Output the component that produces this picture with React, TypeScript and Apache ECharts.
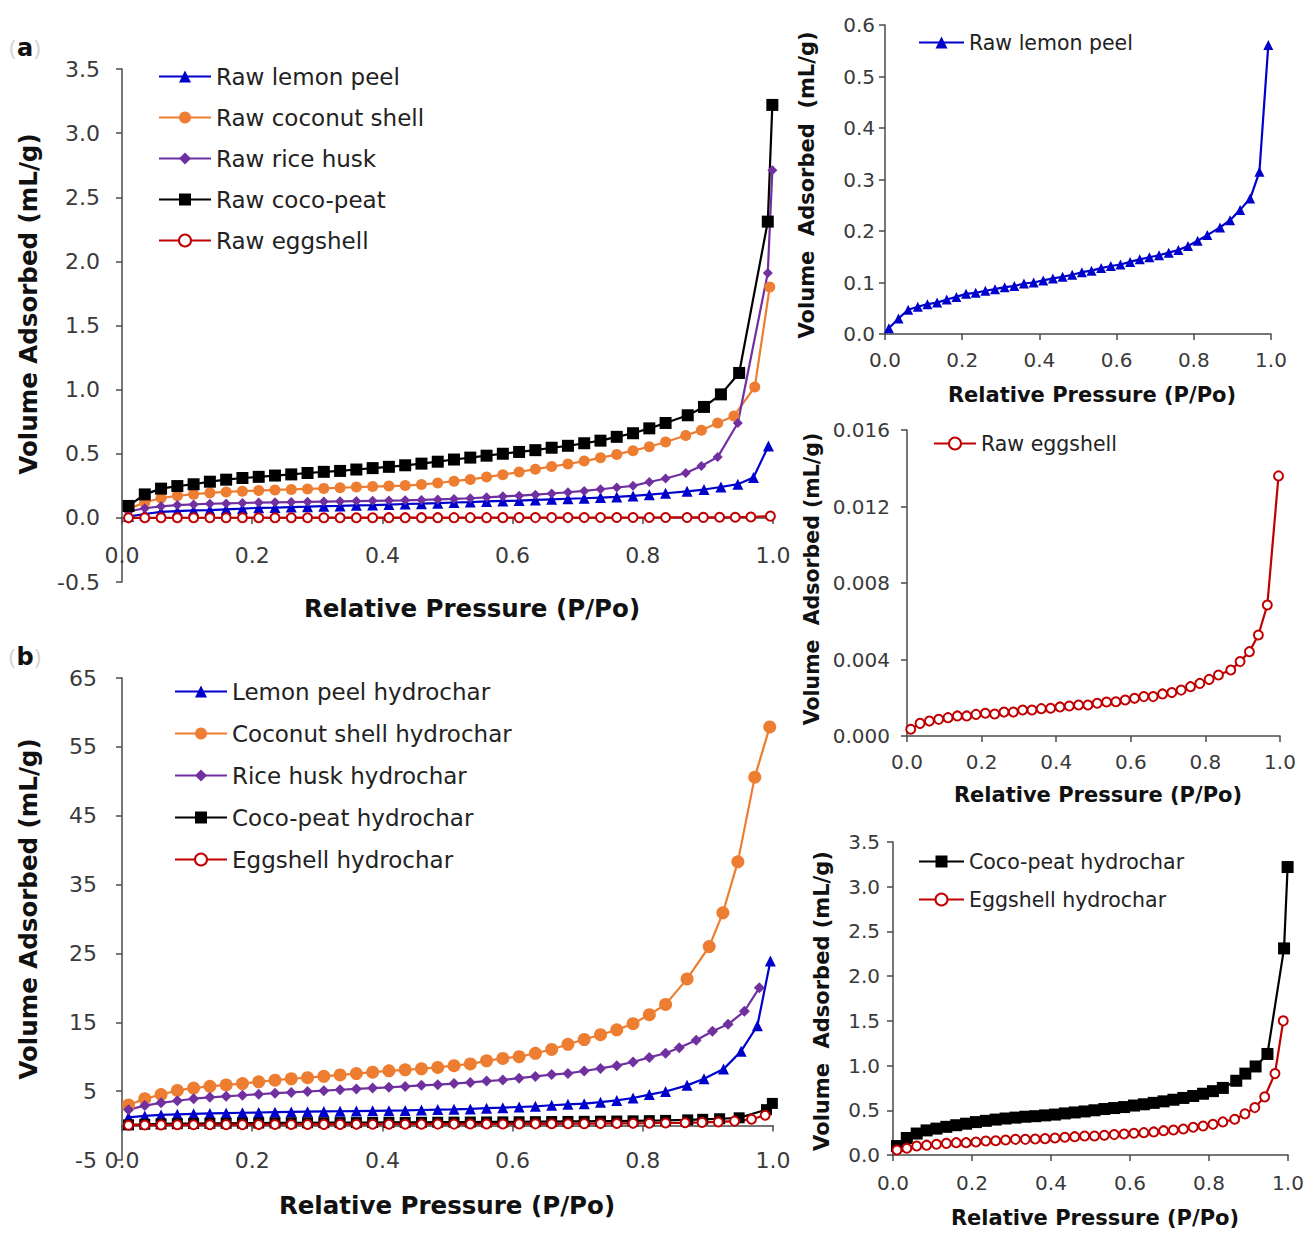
import React, { useEffect, useRef } from "react";
import * as echarts from "echarts";

// Relative pressure (P/Po) of the common low-pressure points
const pressureLow = [0.01, 0.035, 0.06, 0.085, 0.11, 0.135, 0.16, 0.185, 0.21, 0.235, 0.26, 0.285, 0.31, 0.335, 0.36, 0.385, 0.41, 0.435, 0.46, 0.485, 0.51, 0.535, 0.56, 0.585, 0.61, 0.635, 0.66, 0.685, 0.71, 0.735, 0.76, 0.785, 0.81, 0.835];

// Raw materials (mL/g)
const rawLemonLow = [0.011, 0.03, 0.047, 0.053, 0.058, 0.061, 0.067, 0.072, 0.078, 0.08, 0.084, 0.087, 0.091, 0.093, 0.098, 0.1, 0.104, 0.108, 0.111, 0.115, 0.12, 0.123, 0.128, 0.132, 0.135, 0.14, 0.145, 0.149, 0.153, 0.158, 0.163, 0.171, 0.181, 0.192];
const rawLemonTail = [[0.868, 0.207], [0.894, 0.221], [0.92, 0.241], [0.946, 0.263], [0.97, 0.315], [0.993, 0.561]];

const rawCoconutLow = [0.07, 0.12, 0.155, 0.172, 0.185, 0.195, 0.202, 0.208, 0.213, 0.218, 0.222, 0.226, 0.23, 0.235, 0.24, 0.244, 0.248, 0.252, 0.26, 0.272, 0.286, 0.3, 0.318, 0.337, 0.358, 0.38, 0.4, 0.42, 0.443, 0.468, 0.495, 0.524, 0.555, 0.592];
const rawCoconutTail = [[0.866, 0.642], [0.89, 0.684], [0.915, 0.74], [0.94, 0.795], [0.972, 1.02], [0.995, 1.8]];

const rawRiceLow = [0.05, 0.075, 0.09, 0.1, 0.105, 0.11, 0.113, 0.116, 0.119, 0.121, 0.123, 0.125, 0.127, 0.129, 0.131, 0.133, 0.135, 0.137, 0.14, 0.144, 0.148, 0.153, 0.16, 0.168, 0.173, 0.181, 0.19, 0.2, 0.21, 0.223, 0.237, 0.25, 0.28, 0.307];
const rawRiceTail = [[0.866, 0.35], [0.89, 0.405], [0.915, 0.474], [0.946, 0.74], [0.992, 1.91], [0.999, 2.71]];

const rawCocoPeatLow = [0.093, 0.183, 0.228, 0.248, 0.262, 0.282, 0.298, 0.311, 0.32, 0.33, 0.339, 0.35, 0.359, 0.366, 0.377, 0.388, 0.398, 0.41, 0.423, 0.438, 0.455, 0.47, 0.485, 0.5, 0.514, 0.528, 0.547, 0.562, 0.582, 0.602, 0.632, 0.66, 0.698, 0.74];
const rawCocoPeatTail = [[0.869, 0.8], [0.894, 0.865], [0.92, 0.963], [0.948, 1.13], [0.992, 2.31], [0.999, 3.22]];

const rawEggLow = [0.00035, 0.00066, 0.00078, 0.00087, 0.00096, 0.00105, 0.00105, 0.00113, 0.00119, 0.00115, 0.00125, 0.00125, 0.00136, 0.00136, 0.00143, 0.00145, 0.00152, 0.00157, 0.00162, 0.00162, 0.00171, 0.00178, 0.00179, 0.00188, 0.00197, 0.00206, 0.00206, 0.0022, 0.00227, 0.0024, 0.00258, 0.00275, 0.00296, 0.00319];
const rawEggTail = [[0.868, 0.00345], [0.893, 0.00389], [0.918, 0.00441], [0.942, 0.00528], [0.966, 0.00685], [0.996, 0.0136]];

// Hydrochars (mL/g)
const lemonHydLow = [1.2, 1.4, 1.55, 1.63, 1.7, 1.76, 1.81, 1.86, 1.9, 1.94, 1.98, 2.02, 2.05, 2.08, 2.11, 2.14, 2.17, 2.2, 2.26, 2.32, 2.36, 2.42, 2.52, 2.6, 2.7, 2.8, 2.95, 3.08, 3.18, 3.4, 3.65, 4.0, 4.5, 4.95];
const lemonHydTail = [[0.868, 5.84], [0.894, 6.8], [0.924, 8.2], [0.951, 10.8], [0.976, 14.5], [0.996, 23.9]];

const coconutHydLow = [3.0, 3.9, 4.5, 5.1, 5.45, 5.7, 5.9, 6.1, 6.35, 6.6, 6.8, 6.95, 7.15, 7.35, 7.55, 7.75, 7.95, 8.1, 8.25, 8.45, 8.7, 8.96, 9.4, 9.75, 10.0, 10.5, 11.05, 11.8, 12.5, 13.2, 13.9, 14.8, 16.1, 17.6];
const coconutHydTail = [[0.868, 21.3], [0.902, 26.0], [0.923, 30.9], [0.946, 38.3], [0.972, 50.6], [0.995, 57.9]];

const riceHydLow = [2.3, 2.9, 3.3, 3.6, 3.9, 4.1, 4.25, 4.4, 4.55, 4.7, 4.82, 4.95, 5.07, 5.2, 5.32, 5.44, 5.56, 5.68, 5.84, 5.94, 6.1, 6.26, 6.46, 6.62, 6.88, 7.14, 7.4, 7.57, 7.93, 8.3, 8.7, 9.24, 9.9, 10.5];
const riceHydTail = [[0.856, 11.3], [0.882, 12.4], [0.907, 13.7], [0.931, 14.7], [0.956, 16.6], [0.979, 20.0]];

const cocoHydLow = [0.1, 0.19, 0.24, 0.275, 0.295, 0.315, 0.333, 0.35, 0.368, 0.382, 0.396, 0.408, 0.418, 0.428, 0.434, 0.443, 0.452, 0.465, 0.476, 0.487, 0.5, 0.514, 0.525, 0.536, 0.553, 0.567, 0.583, 0.6, 0.618, 0.638, 0.66, 0.685, 0.714, 0.75];
const cocoHydTail = [[0.869, 0.83], [0.892, 0.91], [0.918, 0.99], [0.948, 1.13], [0.99, 2.31], [0.999, 3.22]];

const eggHydLow = [0.056, 0.075, 0.1, 0.11, 0.12, 0.13, 0.138, 0.138, 0.145, 0.157, 0.16, 0.168, 0.175, 0.175, 0.179, 0.183, 0.19, 0.198, 0.205, 0.213, 0.213, 0.22, 0.228, 0.235, 0.243, 0.25, 0.258, 0.272, 0.28, 0.29, 0.31, 0.324, 0.343, 0.37];
const eggHydTail = [[0.865, 0.4], [0.891, 0.46], [0.916, 0.53], [0.941, 0.65], [0.967, 0.91], [0.988, 1.5]];

// Axis tick setups
const xTicks = { min: 0, max: 1, interval: 0.2 };
const yTicksA = { min: -0.5, max: 3.5, interval: 0.5 };
const yTicksB = { min: -5, max: 65, interval: 10 };
const yTicksC = { min: 0, max: 0.6, interval: 0.1 };
const yTicksD = { min: 0, max: 0.016, interval: 0.004 };
const yTicksE = { min: 0, max: 3.5, interval: 0.5 };

const legendA = ["Raw lemon peel", "Raw coconut shell", "Raw rice husk", "Raw coco-peat", "Raw eggshell"];
const legendB = ["Lemon peel hydrochar", "Coconut shell hydrochar", "Rice husk hydrochar", "Coco-peat hydrochar", "Eggshell hydrochar"];

const FONT = '"DejaVu Sans", Verdana, sans-serif';
const BLUE = "#0000CC";
const ORANGE = "#ED7D31";
const PURPLE = "#7030A0";
const BLACK = "#000000";
const RED = "#C00000";
const AXIS = "#4a4a4a";
const LABEL = "#3a3a3a";

function pts(low: number[], tail: number[][]) {
  return pressureLow.map((p, i) => [p, low[i]]).concat(tail);
}

function line(name: string, data: number[][], idx: number, color: string, symbol: string, size: number) {
  const empty = symbol === "emptyCircle";
  return {
    type: "line",
    name,
    data,
    xAxisIndex: idx,
    yAxisIndex: idx,
    symbol,
    symbolSize: size,
    showAllSymbol: true,
    lineStyle: { color, width: 2.2 },
    itemStyle: { color, borderColor: color, borderWidth: empty ? 2 : 0 },
    emphasis: { disabled: true },
  };
}

function xAxis(idx: number, fontSize: number, margin: number) {
  return {
    type: "value",
    gridIndex: idx,
    ...xTicks,
    axisLine: { show: true, onZero: true, lineStyle: { color: AXIS, width: 1.5 } },
    axisTick: { show: true, inside: false, length: 6, lineStyle: { color: AXIS, width: 1.5 } },
    axisLabel: { fontSize, fontFamily: FONT, color: LABEL, margin, formatter: (v: number) => v.toFixed(1) },
    splitLine: { show: false },
  };
}

function yAxis(idx: number, ticks: any, fontSize: number, margin: number, digits: number) {
  return {
    type: "value",
    gridIndex: idx,
    ...ticks,
    axisLine: { show: true, onZero: false, lineStyle: { color: AXIS, width: 1.5 } },
    axisTick: { show: true, inside: false, length: 6, lineStyle: { color: AXIS, width: 1.5 } },
    axisLabel: { fontSize, fontFamily: FONT, color: LABEL, margin, formatter: (v: number) => v.toFixed(digits) },
    splitLine: { show: false },
  };
}

function legend(data: string[], left: number, top: number, itemWidth: number, itemGap: number, fontSize: number) {
  return {
    data,
    left,
    top,
    orient: "vertical",
    itemWidth,
    itemHeight: 15,
    itemGap,
    padding: 0,
    selectedMode: false,
    textStyle: { fontSize, fontFamily: FONT, color: "#222" },
  };
}

function title(text: string, x: number, y: number, size: number, vertical: boolean) {
  return {
    type: "text",
    x,
    y,
    rotation: vertical ? Math.PI / 2 : 0,
    style: {
      text,
      font: `bold ${size}px ${FONT}`,
      fill: "#111",
      align: "center",
      verticalAlign: "middle",
      textAlign: "center",
      textVerticalAlign: "middle",
    },
  };
}

function panelLabel(letter: string, x: number, y: number) {
  return {
    type: "text",
    x,
    y,
    style: {
      text: `{p|(}{b|${letter}}{p|)}`,
      align: "center",
      verticalAlign: "middle",
      rich: {
        p: { fill: "#d6d6d6", font: `22px ${FONT}` },
        b: { fill: "#111", font: `bold 24px ${FONT}` },
      },
    },
  };
}

export default function App() {
  const ref = useRef<HTMLDivElement>(null);

  useEffect(() => {
    if (!ref.current) return;
    const chart = echarts.init(ref.current, undefined, { renderer: "svg" });

    const rawLemon = pts(rawLemonLow, rawLemonTail);
    const rawCoconut = pts(rawCoconutLow, rawCoconutTail);
    const rawRice = pts(rawRiceLow, rawRiceTail);
    const rawCocoPeat = pts(rawCocoPeatLow, rawCocoPeatTail);
    const rawEgg = pts(rawEggLow, rawEggTail);
    const lemonHyd = pts(lemonHydLow, lemonHydTail);
    const coconutHyd = pts(coconutHydLow, coconutHydTail);
    const riceHyd = pts(riceHydLow, riceHydTail);
    const cocoHyd = pts(cocoHydLow, cocoHydTail);
    const eggHyd = pts(eggHydLow, eggHydTail);

    chart.setOption({
      animation: false,
      backgroundColor: "#ffffff",
      textStyle: { fontFamily: FONT },
      grid: [
        { left: 122, top: 69, width: 651, height: 513 },
        { left: 122, top: 678, width: 651, height: 482 },
        { left: 885, top: 25, width: 386, height: 309 },
        { left: 907, top: 430, width: 373, height: 306 },
        { left: 893, top: 842, width: 395, height: 313 },
      ],
      xAxis: [
        xAxis(0, 22, -38),
        xAxis(1, 22, -11),
        xAxis(2, 20, 16),
        xAxis(3, 20, 16),
        xAxis(4, 20, 18),
      ],
      yAxis: [
        yAxis(0, yTicksA, 22, 22, 1),
        yAxis(1, yTicksB, 22, 25, 0),
        yAxis(2, yTicksC, 20, 10, 1),
        yAxis(3, yTicksD, 20, 17, 3),
        yAxis(4, yTicksE, 20, 13, 1),
      ],
      legend: [
        legend(legendA, 158, 65, 52, 18, 23),
        legend(legendB, 174, 680, 52, 19, 23),
        legend(["Raw lemon peel"], 918, 32, 45, 18, 20.5),
        legend(["Raw eggshell"], 933, 433, 42, 18, 20.5),
        legend(["Coco-peat hydrochar", "Eggshell hydrochar"], 918, 851, 45, 17, 20.5),
      ],
      series: [
        line("Raw lemon peel", rawLemon, 0, BLUE, "triangle", 11),
        line("Raw coconut shell", rawCoconut, 0, ORANGE, "circle", 11),
        line("Raw rice husk", rawRice, 0, PURPLE, "diamond", 10),
        line("Raw coco-peat", rawCocoPeat, 0, BLACK, "rect", 12),
        line("Raw eggshell", rawEgg, 0, RED, "emptyCircle", 9),

        line("Lemon peel hydrochar", lemonHyd, 1, BLUE, "triangle", 11),
        line("Coconut shell hydrochar", coconutHyd, 1, ORANGE, "circle", 13),
        line("Rice husk hydrochar", riceHyd, 1, PURPLE, "diamond", 11),
        line("Coco-peat hydrochar", cocoHyd, 1, BLACK, "rect", 11),
        line("Eggshell hydrochar", eggHyd, 1, RED, "emptyCircle", 9),

        line("Raw lemon peel", rawLemon, 2, BLUE, "triangle", 10),
        line("Raw eggshell", rawEgg, 3, RED, "emptyCircle", 9),
        line("Coco-peat hydrochar", cocoHyd, 4, BLACK, "rect", 12),
        line("Eggshell hydrochar", eggHyd, 4, RED, "emptyCircle", 9),
      ],
      graphic: [
        panelLabel("a", 25, 48),
        panelLabel("b", 25, 657),
        title("Volume Adsorbed (mL/g)", 28, 304, 24.5, true),
        title("Relative Pressure (P/Po)", 472, 608, 24.5, false),
        title("Volume Adsorbed (mL/g)", 28, 909, 24.5, true),
        title("Relative Pressure (P/Po)", 447, 1205, 24.5, false),
        title("Volume  Adsorbed  (mL/g)", 807, 185, 21, true),
        title("Relative Pressure (P/Po)", 1092, 395, 21, false),
        title("Volume  Adsorbed (mL/g)", 812, 579, 20.5, true),
        title("Relative Pressure (P/Po)", 1098, 795, 21, false),
        title("Volume  Adsorbed (mL/g)", 822, 1001, 21, true),
        title("Relative Pressure (P/Po)", 1095, 1218, 21, false),
      ],
    });

    return () => chart.dispose();
  }, []);

  return (
    <div
      ref={ref}
      style={{ position: "absolute", left: 0, top: 0, width: 1315, height: 1233, background: "#fff" }}
    />
  );
}
